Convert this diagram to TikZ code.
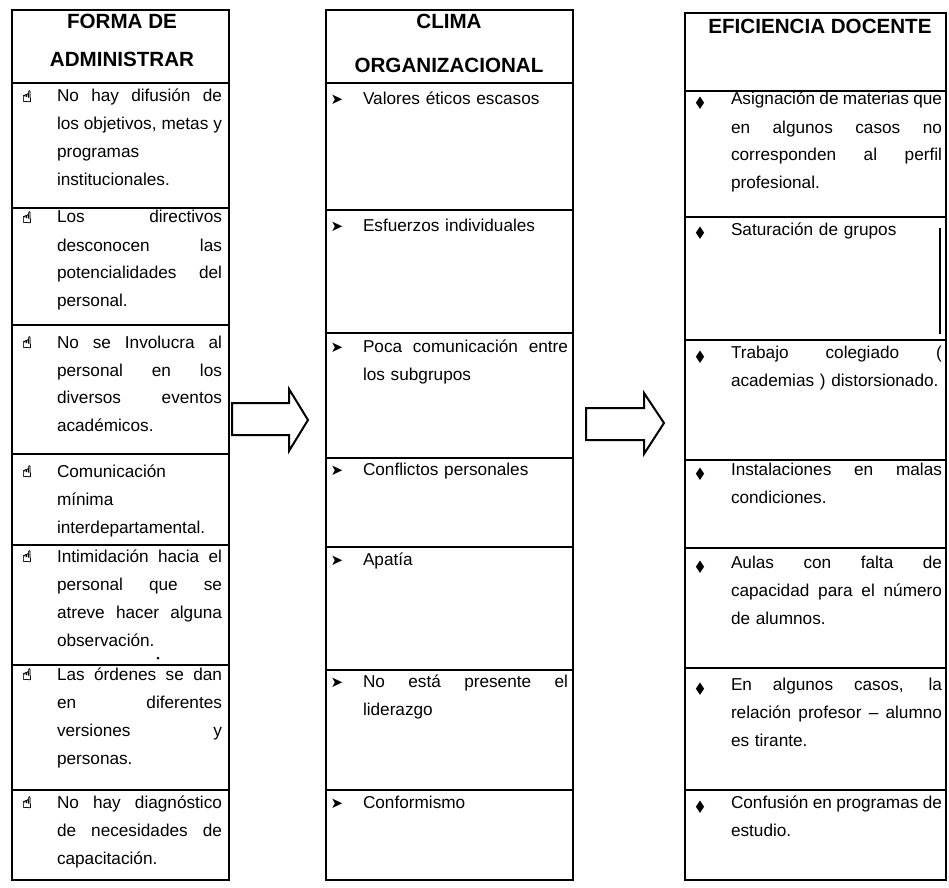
\documentclass[tikz,border=0pt]{standalone}
\usepackage{fontspec}
\usepackage{graphicx}
\setmainfont{Liberation Sans}
\newfontfamily\symfont{DejaVu Sans}
\newfontfamily\handfont[FakeBold=2]{DejaVu Sans}

% justified lines, stretched to the text width of each column
% (the ragged alignment of the nodes fixes \spaceskip, so it is reset here)
\newcommand{\jline}[2]{\makebox[#1][s]{\spaceskip=0pt\xspaceskip=0pt #2}}
\newcommand{\ja}[1]{\jline{82.5pt}{#1}}
\newcommand{\jb}[1]{\jline{102.5pt}{#1}}
\newcommand{\jc}[1]{\jline{105.5pt}{#1}}

\begin{document}
\begin{tikzpicture}[x=0.5pt,y=-0.5pt,
  frame/.style={line width=1.2pt},
  rowline/.style={line width=1pt},
  body/.style={anchor=base west, inner sep=0pt, outer sep=0pt, align=left,
    font=\fontsize{8.6}{14}\selectfont},
  lefttext/.style={body, text width=82.5pt},
  midtext/.style={body, text width=102.5pt},
  righttext/.style={body, text width=105.5pt},
  headline/.style={anchor=base, inner sep=0pt, font=\bfseries\fontsize{10.3}{12}\selectfont},
  hand/.style={anchor=base, inner sep=0pt, font=\handfont\fontsize{8}{8}\selectfont},
  pointer/.style={anchor=base, inner sep=0pt, font=\symfont\fontsize{7.5}{8}\selectfont},
  gem/.style={anchor=base, inner sep=0pt, font=\symfont\fontsize{5.5}{6}\selectfont},
  blockarrow/.style={draw, line width=1pt, fill=white, line join=miter}
]
\useasboundingbox (0,0) rectangle (949,888);

% ---------------- column frames ----------------
\draw[frame] (12,10) rectangle (229,880);
\foreach \y in {83,208,325,454,545,665,790} \draw[rowline] (12,\y) -- (229,\y);

\draw[frame] (326,10) rectangle (573,880);
\foreach \y in {83,210,333,458,547,670,790} \draw[rowline] (326,\y) -- (573,\y);

\draw[frame] (685,13) rectangle (946,880);
\foreach \y in {91,217,340,460,548,668,790} \draw[rowline] (685,\y) -- (946,\y);
\draw[line width=0.8pt] (940,228) -- (940,334);

% ---------------- headers ----------------
\node[headline] (hA1) at (122,29) {FORMA DE};
\node[headline] (hA2) at (122,67) {ADMINISTRAR};
\node[headline] (hB1) at (449,29) {CLIMA};
\node[headline] (hB2) at (449,73) {ORGANIZACIONAL};
\node[headline] (hC1) at (820,34) {EFICIENCIA DOCENTE};

% ---------------- forma de administrar ----------------
\foreach \n/\y in {1/102,2/223,3/348,4/477,5/562,6/680,7/808}
  \node[hand] (ab\n) at (27,\y) {☝};
\node[lefttext] (a1) at (57,102) {\ja{No hay difusión de}\\ \ja{los objetivos, metas y}\\ programas\\ institucionales.};
\node[lefttext] (a2) at (57,223) {\ja{Los directivos}\\ \ja{desconocen las}\\ \ja{potencialidades del}\\ personal.};
\node[lefttext] (a3) at (57,348) {\ja{No se Involucra al}\\ \ja{personal en los}\\ \ja{diversos eventos}\\ académicos.};
\node[lefttext] (a4) at (57,477) {Comunicación\\ mínima\\ interdepartamental.};
\node[lefttext] (a5) at (57,562) {\ja{Intimidación hacia el}\\ \ja{personal que se}\\ \ja{atreve hacer alguna}\\ observación.};
\node[lefttext] (a6) at (57,680) {\ja{Las órdenes se dan}\\ \ja{en diferentes}\\ \ja{versiones y}\\ personas.};
\node[lefttext] (a7) at (57,808) {\ja{No hay diagnóstico}\\ \ja{de necesidades de}\\ capacitación.};
\fill (158,658) circle (1.5);

% ---------------- clima organizacional ----------------
\foreach \n/\y in {1/105,2/232,3/352,4/475,5/565,6/687,7/808}
  \node[pointer] (bb\n) at (337,\y) {➤};
\node[midtext] (b1) at (363,105) {Valores éticos escasos};
\node[midtext] (b2) at (363,232) {Esfuerzos individuales};
\node[midtext] (b3) at (363,352) {\jb{Poca comunicación entre}\\ los subgrupos};
\node[midtext] (b4) at (363,475) {Conflictos personales};
\node[midtext] (b5) at (363,565) {Apatía};
\node[midtext] (b6) at (363,687) {\jb{No está presente el}\\ liderazgo};
\node[midtext] (b7) at (363,808) {Conformismo};

% ---------------- eficiencia docente ----------------
\foreach \n/\y in {1/108,2/238,3/361,4/478,5/571,6/693,7/811}
  \node[gem] (cb\n) at (700,\y) {\scalebox{1}[1.5]{◆}};
\node[righttext] (c1) at (731,105) {\jc{Asignación de materias que}\\ \jc{en algunos casos no}\\ \jc{corresponden al perfil}\\ profesional.};
\node[righttext] (c2) at (731,235) {Saturación de grupos};
\node[righttext] (c3) at (731,358) {\jc{Trabajo colegiado (}\\ academias ) distorsionado.};
\node[righttext] (c4) at (731,475) {\jc{Instalaciones en malas}\\ condiciones.};
\node[righttext] (c5) at (731,568) {\jc{Aulas con falta de}\\ \jc{capacidad para el número}\\ de alumnos.};
\node[righttext] (c6) at (731,690) {\jc{En algunos casos, la}\\ \jc{relación profesor – alumno}\\ es tirante.};
\node[righttext] (c7) at (731,808) {\jc{Confusión en programas de}\\ estudio.};

% ---------------- block arrows between the columns ----------------
\draw[blockarrow] (232,403) -- (289,403) -- (289,389) -- (308,420) -- (289,451) -- (289,435) -- (232,435) -- cycle;
\draw[blockarrow] (586,408) -- (644,408) -- (644,393) -- (664,423) -- (644,454) -- (644,440) -- (586,440) -- cycle;
\end{tikzpicture}
\end{document}
